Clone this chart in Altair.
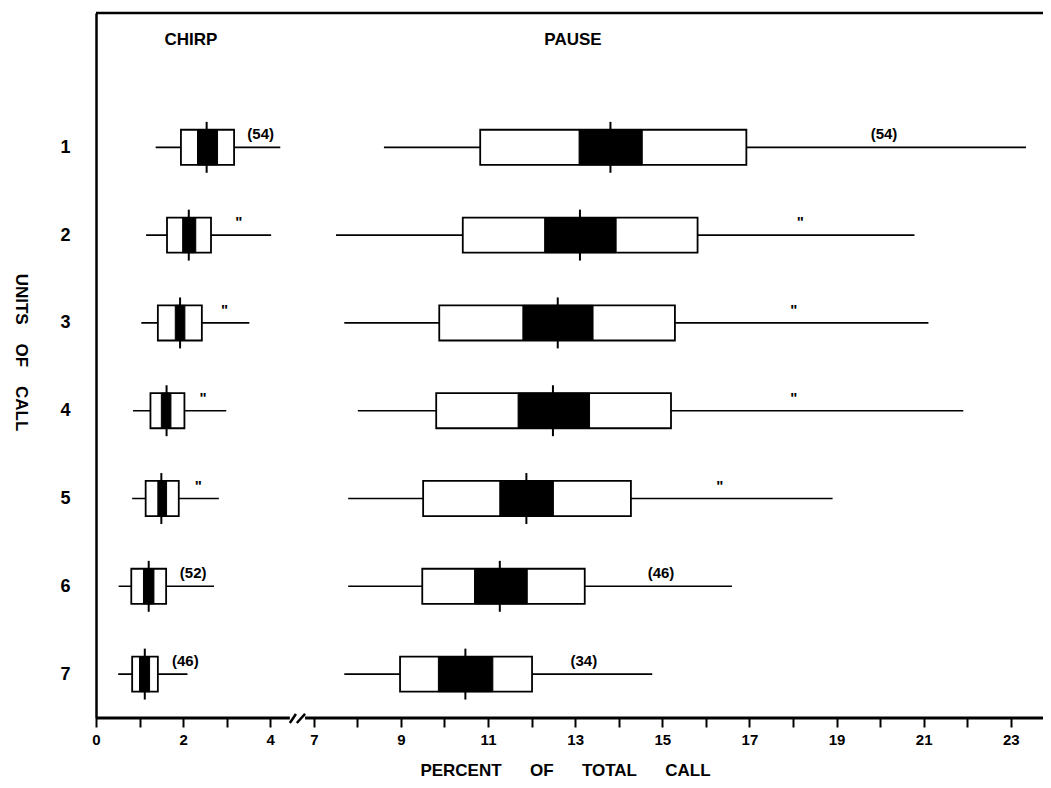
import altair as alt
import pandas as pd

# ---------------- data ----------------
units = [1, 2, 3, 4, 5, 6, 7]

# CHIRP (% of total call): range, +-SD box, CI box, mean
chirp_min   = [1.37, 1.15, 1.04, 0.85, 0.83, 0.52, 0.51]
chirp_sd_lo = [1.95, 1.63, 1.42, 1.25, 1.14, 0.81, 0.83]
chirp_ci_lo = [2.33, 1.99, 1.82, 1.50, 1.42, 1.09, 1.00]
chirp_mean  = [2.54, 2.13, 1.93, 1.62, 1.50, 1.21, 1.12]
chirp_ci_hi = [2.79, 2.29, 2.04, 1.72, 1.62, 1.33, 1.23]
chirp_sd_hi = [3.17, 2.64, 2.43, 2.03, 1.90, 1.61, 1.42]
chirp_max   = [4.23, 4.02, 3.52, 2.99, 2.82, 2.71, 2.10]
chirp_n     = ["(54)", '"', '"', '"', '"', "(52)", "(46)"]
chirp_n_at  = [3.78, 3.28, 2.95, 2.46, 2.35, 2.23, 2.05]

# PAUSE (% of total call)
pause_min   = [8.61, 7.51, 7.70, 8.01, 7.79, 7.79, 7.70]
pause_sd_lo = [10.82, 10.42, 9.88, 9.81, 9.51, 9.49, 8.98]
pause_ci_lo = [13.09, 12.30, 11.80, 11.69, 11.27, 10.69, 9.86]
pause_mean  = [13.81, 13.11, 12.60, 12.49, 11.88, 11.27, 10.48]
pause_ci_hi = [14.54, 13.94, 13.41, 13.33, 12.50, 11.90, 11.11]
pause_sd_hi = [16.93, 15.81, 15.29, 15.20, 14.28, 13.22, 12.01]
pause_max   = [23.35, 20.79, 21.11, 21.91, 18.91, 16.60, 14.77]
pause_n     = ["(54)", '"', '"', '"', '"', "(46)", "(34)"]
pause_n_at  = [20.09, 18.17, 18.02, 18.02, 16.32, 14.97, 13.20]

sections      = ["CHIRP", "PAUSE"]
section_shift = [0.0, 2.0]       # broken axis: 4 | 7 are adjacent
section_title_at = [2.18, 12.95]

x_ticks = list(range(0, 22))     # drawn positions (0-4 chirp, 5-21 -> 7-23)
y_ticks = units

XMAX = 21.74
YTOP, YBOT = -0.53, 7.5
BOX_HALF = 0.2
TICK_HALF = 0.29
FONT = "Liberation Sans"

# ---------------- tables ----------------
rows = []
for i, u in enumerate(units):
    rows.append(dict(section="CHIRP", unit=u, shift=section_shift[0],
                     vmin=chirp_min[i], sdlo=chirp_sd_lo[i], cilo=chirp_ci_lo[i],
                     mean=chirp_mean[i], cihi=chirp_ci_hi[i], sdhi=chirp_sd_hi[i],
                     vmax=chirp_max[i], n=chirp_n[i], nat=chirp_n_at[i]))
    rows.append(dict(section="PAUSE", unit=u, shift=section_shift[1],
                     vmin=pause_min[i], sdlo=pause_sd_lo[i], cilo=pause_ci_lo[i],
                     mean=pause_mean[i], cihi=pause_ci_hi[i], sdhi=pause_sd_hi[i],
                     vmax=pause_max[i], n=pause_n[i], nat=pause_n_at[i]))
df = pd.DataFrame(rows)

heads = pd.DataFrame({"label": sections, "at": section_title_at,
                      "shift": section_shift, "y": [-0.22, -0.22]})

frame_top = pd.DataFrame({"x0": [0.0], "x1": [XMAX], "y": [YTOP]})
axis_line = pd.DataFrame({"x0": [0.0, 4.80], "x1": [4.45, XMAX], "y": [YBOT, YBOT]})
break_marks = pd.DataFrame({"x0": [4.45, 4.61], "x1": [4.59, 4.80],
                            "y0": [7.557, 7.557], "y1": [7.454, 7.454]})

xscale = alt.Scale(domain=[0, XMAX], nice=False, zero=False)
yscale = alt.Scale(domain=[YTOP, YBOT], nice=False, zero=False, reverse=True)

NB = "\u00a0"
x_title = (NB * 6).join(["PERCENT", "OF", "TOTAL", "CALL"])
y_title = (NB * 4).join(["UNITS", "OF", "CALL"])

xaxis = alt.Axis(
    values=x_ticks,
    labelExpr="datum.value <= 4 ? (datum.value % 2 == 0 ? '' + datum.value : '') : "
              "(datum.value % 2 == 1 ? '' + (datum.value + 2) : '')",
    domain=False, grid=False, ticks=True, tickColor="black", tickWidth=2,
    tickSize=9, labelFont=FONT, labelFontSize=15, labelFontWeight="bold",
    labelColor="black", labelPadding=5, labelFlush=False, labelOverlap=False,
    title=x_title, titleFont=FONT, titleFontSize=17, titleFontWeight="bold",
    titleColor="black", titleX=469, titleY=52, titleAlign="center",
    titleBaseline="middle",
)
yaxis = alt.Axis(
    values=y_ticks, format="d", domain=True, domainColor="black", domainWidth=2.5,
    ticks=False, grid=False, labelFont=FONT, labelFontSize=18,
    labelFontWeight="bold", labelColor="black", labelPadding=26,
    title=y_title, titleFont=FONT, titleFontSize=17, titleFontWeight="bold",
    titleColor="black", titleAngle=90, titleX=-76, titleY=339,
    titleAlign="center", titleBaseline="middle",
)

base = alt.Chart(df).transform_calculate(
    xmin="datum.vmin - datum.shift",
    xmax="datum.vmax - datum.shift",
    xsdlo="datum.sdlo - datum.shift",
    xsdhi="datum.sdhi - datum.shift",
    xcilo="datum.cilo - datum.shift",
    xcihi="datum.cihi - datum.shift",
    xmean="datum.mean - datum.shift",
    xn="datum.nat - datum.shift",
    ytop=f"datum.unit - {BOX_HALF}",
    ybot=f"datum.unit + {BOX_HALF}",
    ttop=f"datum.unit - {TICK_HALF}",
    tbot=f"datum.unit + {TICK_HALF}",
)

range_line = base.mark_rule(color="black", strokeWidth=1.6).encode(
    x=alt.X("xmin:Q", scale=xscale, axis=xaxis),
    x2="xmax:Q",
    y=alt.Y("unit:Q", scale=yscale, axis=yaxis),
)
sd_box = base.mark_rect(fill="white", stroke="black", strokeWidth=1.8).encode(
    x=alt.X("xsdlo:Q", scale=xscale), x2="xsdhi:Q",
    y=alt.Y("ytop:Q", scale=yscale), y2="ybot:Q",
)
ci_box = base.mark_rect(fill="black", stroke="black", strokeWidth=1).encode(
    x=alt.X("xcilo:Q", scale=xscale), x2="xcihi:Q",
    y=alt.Y("ytop:Q", scale=yscale), y2="ybot:Q",
)
mean_tick = base.mark_rule(color="black", strokeWidth=2).encode(
    x=alt.X("xmean:Q", scale=xscale),
    y=alt.Y("ttop:Q", scale=yscale), y2="tbot:Q",
)
n_text = base.mark_text(font=FONT, fontSize=15, fontWeight="bold",
                        color="black", baseline="middle", align="center",
                        dy=-13).encode(
    x=alt.X("xn:Q", scale=xscale),
    y=alt.Y("unit:Q", scale=yscale),
    text="n:N",
)

head_text = alt.Chart(heads).transform_calculate(
    hx="datum.at - datum.shift"
).mark_text(font=FONT, fontSize=17, fontWeight="bold", color="black",
            baseline="middle", align="center").encode(
    x=alt.X("hx:Q", scale=xscale),
    y=alt.Y("y:Q", scale=yscale),
    text="label:N",
)

top_line = alt.Chart(frame_top).mark_rule(color="black", strokeWidth=2.5).encode(
    x=alt.X("x0:Q", scale=xscale), x2="x1:Q",
    y=alt.Y("y:Q", scale=yscale),
)
bottom_line = alt.Chart(axis_line).mark_rule(color="black", strokeWidth=3).encode(
    x=alt.X("x0:Q", scale=xscale), x2="x1:Q",
    y=alt.Y("y:Q", scale=yscale),
)
breaks = alt.Chart(break_marks).mark_rule(color="black", strokeWidth=2.5).encode(
    x=alt.X("x0:Q", scale=xscale), x2="x1:Q",
    y=alt.Y("y0:Q", scale=yscale), y2="y1:Q",
)

chart = alt.layer(
    range_line, sd_box, ci_box, mean_tick, n_text, head_text,
    top_line, bottom_line, breaks,
).properties(
    width=947, height=705,
    padding={"left": 88, "top": 5, "right": 0, "bottom": 62},
    autosize=alt.AutoSizeParams(type="none"),
    background="white",
).configure_view(stroke=None)

chart.save("out.html", embed_options={"renderer": "svg", "actions": False})
